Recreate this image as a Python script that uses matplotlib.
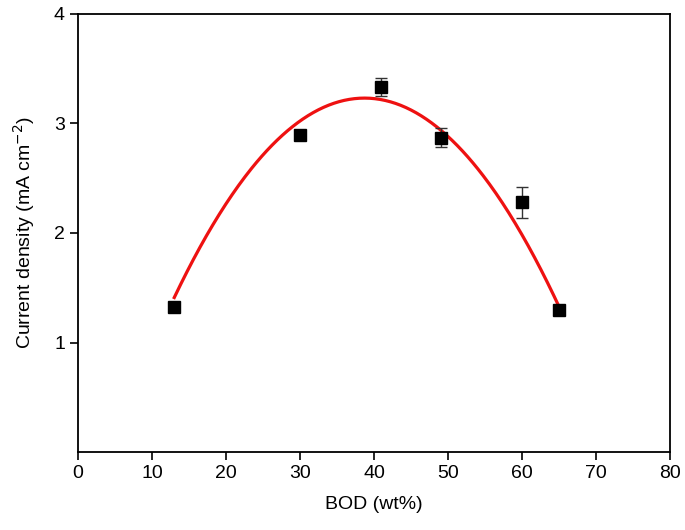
import numpy as np
import matplotlib
matplotlib.use("Agg")
import matplotlib.pyplot as plt

plt.rcParams['font.family'] = ['Liberation Sans', 'DejaVu Sans']

bod = [13, 30, 41, 49, 60, 65]
current = [1.32, 2.89, 3.33, 2.87, 2.28, 1.30]
err = [0.02, 0.04, 0.08, 0.09, 0.14, 0.02]

# red fit curve, every 3 wt%
fit_bod = [13, 16, 19, 22, 25, 28, 31, 34, 37, 40, 43, 46, 49, 52, 55, 58, 61, 63, 65]
fit_current = [1.41, 1.81, 2.16, 2.46, 2.71, 2.92, 3.07, 3.17, 3.22, 3.23,
               3.18, 3.08, 2.94, 2.74, 2.50, 2.21, 1.86, 1.61, 1.33]

x_ticks = [0, 10, 20, 30, 40, 50, 60, 70, 80]
y_ticks = [1, 2, 3, 4]

fig = plt.figure(figsize=(6.85, 5.3), dpi=100)
ax = fig.add_axes([0.114, 0.147, 0.864, 0.827])

# the curve is a parabola: smooth the readings with a 2nd order fit
coef = np.polyfit(fit_bod, fit_current, 2)
xs = np.linspace(fit_bod[0], fit_bod[-1], 300)
ax.plot(xs, np.polyval(coef, xs), color='#ee1111', lw=2.3, zorder=2)

ax.errorbar(bod, current, yerr=err, fmt='s', color='black', ms=9,
            ecolor='#333333', elinewidth=1, capsize=4, capthick=1, zorder=3)

ax.set_xlim(0, 80)
ax.set_ylim(0, 4)
ax.set_xticks(x_ticks)
ax.set_yticks(y_ticks)
ax.tick_params(direction='out', length=6, width=1.2, labelsize=14)
for s in ax.spines.values():
    s.set_linewidth(1.3)

ax.set_xlabel('BOD (wt%)', fontsize=14, labelpad=10)
ax.set_ylabel('Current density (mA cm$^{-2}$)', fontsize=14, labelpad=12)

fig.savefig('out.png', dpi=100)
